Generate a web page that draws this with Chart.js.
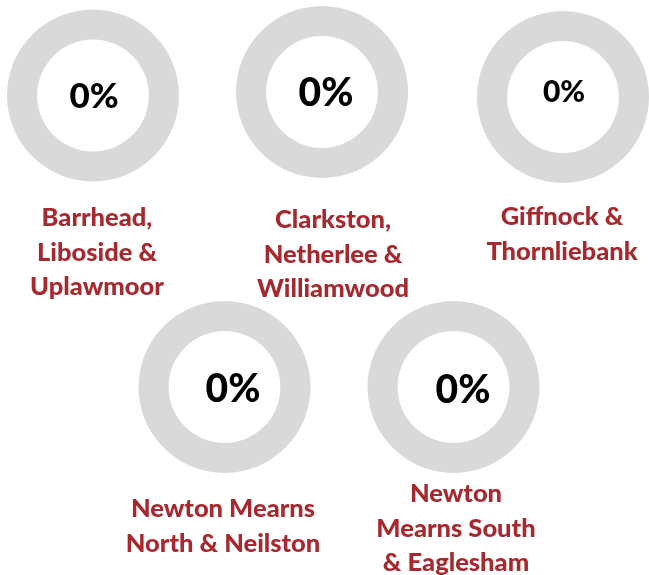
<!DOCTYPE html>
<html><head><meta charset="utf-8">
<script src="https://cdn.jsdelivr.net/npm/chart.js@4"></script>
<style>
html,body{margin:0;padding:0;background:#fff;overflow:hidden}
#wrap{position:relative;width:649px;height:575px}
#wrap canvas{position:absolute;left:0;top:0}
</style></head><body>
<div id="wrap"></div>
<script>
// ---- data ----
const areas = [
  "Barrhead, Liboside & Uplawmoor",
  "Clarkston, Netherlee & Williamwood",
  "Giffnock & Thornliebank",
  "Newton Mearns North & Neilston",
  "Newton Mearns South & Eaglesham"
];
const areaLabelLines = [
  ["Barrhead,", "Liboside &", "Uplawmoor"],
  ["Clarkston,", "Netherlee &", "Williamwood"],
  ["Giffnock &", "Thornliebank"],
  ["Newton Mearns", "North & Neilston"],
  ["Newton", "Mearns South", "& Eaglesham"]
];
const percentValues = [0, 0, 0, 0, 0];
const remainderValues = [100, 100, 100, 100, 100];

// ---- layout (positions / styles only) ----
const W = 649, H = 575, R = 86;
const layout = [
  {cx: 93,  cy: 95.5, tx: 94,  ty: 97,  ts: 35, lx: 97,  ly: 218},
  {cx: 322, cy: 92,   tx: 326, ty: 93,  ts: 39, lx: 333, ly: 220},
  {cx: 563, cy: 97,   tx: 564, ty: 92,  ts: 30, lx: 562, ly: 217},
  {cx: 224.5, cy: 387, tx: 233, ty: 389, ts: 39, lx: 223, ly: 509},
  {cx: 453.5, cy: 387, tx: 463, ty: 390, ts: 39, lx: 456, ly: 494}
];
const LINE_H = 34.5;
const LABEL_FONT = '900 25.5px Lato, "Open Sans", sans-serif';
const LABEL_COLOR = '#A5292F';
const RING_COLOR = '#D9D9D9';

const overlayPlugin = {
  id: 'overlay',
  afterDraw(chart, args, opts) {
    const ctx = chart.ctx;
    const ca = chart.chartArea;
    const cx = (ca.left + ca.right) / 2, cy = (ca.top + ca.bottom) / 2;
    ctx.save();
    ctx.textAlign = 'center';
    ctx.textBaseline = 'middle';
    ctx.fillStyle = '#000';
    ctx.font = '900 ' + opts.ts + 'px Lato, "Open Sans", sans-serif';
    ctx.fillText(opts.value + '%', cx + opts.dx, cy + opts.dy);
    ctx.fillStyle = LABEL_COLOR;
    ctx.font = LABEL_FONT;
    opts.lines.forEach((ln, k) => ctx.fillText(ln, opts.lx, opts.ly + k * LINE_H));
    ctx.restore();
  }
};

const wrap = document.getElementById('wrap');
areas.forEach((name, i) => {
  const L = layout[i];
  const cv = document.createElement('canvas');
  cv.width = W; cv.height = H;
  cv.style.width = W + 'px'; cv.style.height = H + 'px';
  wrap.appendChild(cv);
  new Chart(cv, {
    type: 'doughnut',
    data: {
      labels: [name, 'Remainder'],
      datasets: [{
        data: [percentValues[i], remainderValues[i]],
        backgroundColor: [LABEL_COLOR, RING_COLOR],
        borderColor: [LABEL_COLOR, RING_COLOR],
        borderWidth: 0
      }]
    },
    options: {
      responsive: false,
      animation: false,
      cutout: '65%',
      layout: {padding: {left: L.cx - R, right: W - L.cx - R, top: L.cy - R, bottom: H - L.cy - R}},
      plugins: {
        legend: {display: false},
        tooltip: {enabled: false},
        overlay: {value: percentValues[i], ts: L.ts, dx: L.tx - L.cx, dy: L.ty - L.cy,
                  lines: areaLabelLines[i], lx: L.lx, ly: L.ly}
      }
    },
    plugins: [overlayPlugin]
  });
});
</script>
</body></html>
